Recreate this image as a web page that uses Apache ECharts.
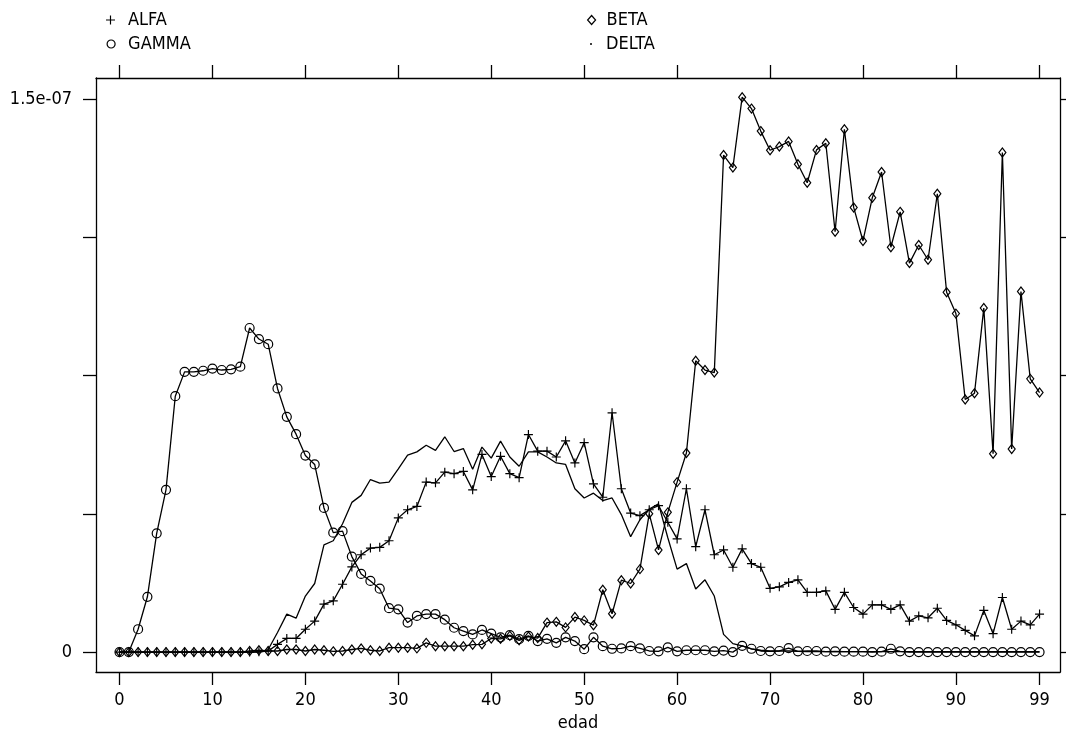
<!DOCTYPE html>
<html>
<head>
<meta charset="utf-8">
<script src="https://cdn.jsdelivr.net/npm/echarts@6/dist/echarts.min.js"></script>
<style>
html,body{margin:0;padding:0;background:#fff;}
#chart{width:1066px;height:739px;}
</style>
</head>
<body>
<div id="chart"></div>
<script>
// values are in units of 1e-9
const edad = [0,1,2,3,4,5,6,7,8,9,10,11,12,13,14,15,16,17,18,19,20,21,22,23,24,25,26,27,28,29,30,31,32,33,34,35,36,37,38,39,40,41,42,43,44,45,46,47,48,49,50,51,52,53,54,55,56,57,58,59,60,61,62,63,64,65,66,67,68,69,70,71,72,73,74,75,76,77,78,79,80,81,82,83,84,85,86,87,88,89,90,91,92,93,94,95,96,97,98,99];

const alfa = [0,0,0,0,0,0,0,0,0,0,0,0,0,0,0,0.1,0.3,2.1,3.7,3.7,6.2,8.4,13.0,13.9,18.4,23.1,26.4,28.2,28.4,30.2,36.4,38.6,39.5,46.1,45.9,48.8,48.4,49.0,44.0,53.6,47.6,53.1,48.4,47.3,59.0,54.5,54.5,52.9,57.3,51.3,56.8,45.6,42.0,64.9,44.3,37.7,37.0,38.6,39.7,35.2,30.7,44.3,28.6,38.6,26.4,27.7,23.0,28.0,24.0,23.0,17.3,17.7,18.9,19.6,16.2,16.2,16.6,11.6,16.2,12.1,10.3,12.8,12.8,11.6,12.8,8.4,9.8,9.3,11.9,8.6,7.4,5.9,4.4,11.3,5.0,14.8,6.2,8.4,7.4,10.3];

const beta = [0,0,0,0,0,0,0,0,0,0,0,0,0,0,0.3,0.5,0.3,0.3,0.7,0.7,0.3,0.7,0.5,0.2,0.3,0.7,1.0,0.5,0.3,1.2,1.2,1.2,1.0,2.5,1.6,1.6,1.6,1.6,2.0,2.1,3.7,3.6,4.4,3.2,4.2,3.8,8.0,8.2,6.7,9.5,8.6,7.3,16.9,10.4,19.5,18.6,22.5,37.5,27.7,37.9,46.1,54.0,79.0,76.5,75.8,134.8,131.4,150.5,147.4,141.3,136.1,137.1,138.5,132.3,127.3,136.2,138.0,114.0,141.8,120.6,111.5,123.2,130.2,109.8,119.4,105.5,110.4,106.4,124.3,97.6,91.8,68.5,70.2,93.3,53.8,135.5,55.1,97.8,74.1,70.4];

const gamma = [0,0,6.2,15.0,32.2,44.0,69.4,76.0,76.0,76.3,76.9,76.5,76.7,77.4,87.9,84.9,83.5,71.5,63.8,59.1,53.3,50.9,39.1,32.4,32.8,25.9,21.2,19.3,17.2,11.9,11.6,8.0,9.8,10.3,10.3,8.8,6.6,5.7,4.8,6.0,5.0,4.0,4.6,3.5,4.4,3.0,3.6,2.5,4.0,3.0,0.8,4.0,1.6,0.9,1.0,1.6,1.0,0.3,0.2,1.3,0.2,0.5,0.5,0.5,0.2,0.4,0,1.7,0.9,0.3,0.2,0.3,1.1,0.2,0.3,0.3,0.1,0.2,0.1,0.1,0.1,0,0.1,0.9,0.2,0,0,0,0,0,0,0,0,0,0,0,0,0,0,0];

const delta = [0,0,0,0,0,0,0,0,0,0,0,0,0,0,0,0,0.7,5.3,10.3,9.2,15.2,18.6,29.1,30.2,34.8,40.6,42.5,46.8,45.8,46.1,49.7,53.4,54.3,56.1,54.7,58.4,54.4,55.2,49.6,55.6,52.6,57.2,52.9,50.4,54.3,54.3,52.9,51.3,50.9,44.3,41.8,43.1,41.1,41.8,37.3,31.3,35.9,38.8,40.2,31.0,22.5,24.0,17.1,19.6,15.2,4.8,2.3,1.7,0.9,0.5,0.3,0.3,0.3,0.2,0.1,0.1,0.1,0.1,0.1,0.1,0.1,0.1,0.1,0.1,0.1,0.1,0.1,0.1,0.1,0.1,0.1,0.1,0.1,0.1,0.1,0.1,0.1,0.1,0.1,0.1];

const xTicks = [0,10,20,30,40,50,60,70,80,90,99];
const yTicks = [0,37.5,75,112.5,150];
const yLabels = [0,150];

// pick a condensed font if one is installed
function hasFont(name){
  const c = document.createElement('canvas').getContext('2d');
  c.font = '20px monospace';
  const w0 = c.measureText('GAMMA 1.5e-07').width;
  c.font = '20px "' + name + '", monospace';
  const w1 = c.measureText('GAMMA 1.5e-07').width;
  return Math.abs(w0 - w1) > 0.5;
}
let FONT = 'Liberation Sans, Arial, sans-serif', FS = 17;
if (hasFont('Liberation Sans Narrow')) { FONT = '"Liberation Sans Narrow", sans-serif'; FS = 20; }
else if (hasFont('DejaVu Sans Condensed')) { FONT = '"DejaVu Sans Condensed", sans-serif'; FS = 18; }

const plusPath = 'path://M4.35,0H5.65V10H4.35Z M0,4.35H10V5.65H0Z';

function fmtY(v){
  if (v === 0) return '0';
  const s = (v*1e-9).toExponential(1);
  return s.replace(/e([+-])(\d)$/, 'e$10$2');
}
function pairs(arr){ return edad.map((a,i)=>[a, arr[i]]); }

const chart = echarts.init(document.getElementById('chart'), null, {renderer:'canvas'});

const axisLineStyle = {color:'#000', width:1.3};
const LW = 1.3;
const txt = {fontFamily:FONT, fontSize:FS, color:'#000'};
const option = {
  animation:false,
  backgroundColor:'#fff',
  textStyle:{fontFamily:FONT, color:'#000'},
  grid:{left:96, right:6, top:78, bottom:67, outerBoundsMode:'none', show:false},
  legend:[
    {left:101, top:15 - FS/2, itemWidth:9, itemHeight:9, selectedMode:false,
     textStyle:Object.assign({padding:[0,0,0,8]}, txt),
     data:[{name:'ALFA', icon:plusPath, itemStyle:{color:'#000', borderWidth:0}}]},
    {left:101.5, top:39 - FS/2, itemWidth:8, itemHeight:8, selectedMode:false,
     textStyle:Object.assign({padding:[0,0,0,8]}, txt),
     data:[{name:'GAMMA', icon:'circle', itemStyle:{color:'transparent', borderColor:'#000', borderWidth:1.2}}]},
    {left:582, top:15 - FS/2, itemWidth:8, itemHeight:9, selectedMode:false,
     textStyle:Object.assign({padding:[0,0,0,6]}, txt),
     data:[{name:'BETA', icon:'diamond', itemStyle:{color:'transparent', borderColor:'#000', borderWidth:1.2}}]},
    {left:585, top:39 - FS/2, itemWidth:2, itemHeight:2, selectedMode:false,
     textStyle:Object.assign({padding:[0,0,0,9]}, txt),
     data:[{name:'DELTA', icon:'circle', itemStyle:{color:'#000', borderWidth:0}}]}
  ],
  xAxis:[
    {type:'value', position:'bottom', min:-2.53, max:101.2,
     name:'edad', nameLocation:'middle', nameGap:50 - FS/2,
     nameTextStyle:txt,
     axisLine:{show:true, onZero:false, lineStyle:axisLineStyle},
     axisTick:{show:true, inside:false, length:13, customValues:xTicks, lineStyle:axisLineStyle},
     axisLabel:Object.assign({show:true, margin:28 - FS/2, customValues:xTicks}, txt),
     splitLine:{show:false}},
    {type:'value', position:'top', min:-2.53, max:101.2,
     axisLine:{show:true, onZero:false, lineStyle:axisLineStyle},
     axisTick:{show:true, inside:false, length:13, customValues:xTicks, lineStyle:axisLineStyle},
     axisLabel:{show:false},
     splitLine:{show:false}}
  ],
  yAxis:[
    {type:'value', position:'left', min:-5.4, max:155.7,
     axisLine:{show:true, onZero:false, lineStyle:axisLineStyle},
     axisTick:{show:true, inside:false, length:13, customValues:yTicks, lineStyle:axisLineStyle},
     axisLabel:Object.assign({show:true, margin:24, customValues:yLabels, formatter:fmtY}, txt),
     splitLine:{show:false}},
    {type:'value', position:'right', min:-5.4, max:155.7,
     axisLine:{show:true, onZero:false, lineStyle:axisLineStyle},
     axisTick:{show:true, inside:false, length:13, customValues:yTicks, lineStyle:axisLineStyle},
     axisLabel:{show:false},
     splitLine:{show:false}}
  ],
  series:[
    {name:'ALFA', type:'line', data:pairs(alfa), symbol:plusPath, symbolSize:9,
     itemStyle:{color:'#000', borderWidth:0}, lineStyle:{color:'#000', width:LW}},
    {name:'BETA', type:'line', data:pairs(beta), symbol:'diamond', symbolSize:[7,9],
     itemStyle:{color:'transparent', borderColor:'#000', borderWidth:1.2}, lineStyle:{color:'#000', width:LW}},
    {name:'GAMMA', type:'line', data:pairs(gamma), symbol:'circle', symbolSize:9,
     itemStyle:{color:'transparent', borderColor:'#000', borderWidth:1.2}, lineStyle:{color:'#000', width:LW}},
    {name:'DELTA', type:'line', data:pairs(delta), symbol:'none',
     itemStyle:{color:'#000'}, lineStyle:{color:'#000', width:LW}}
  ]
};
chart.setOption(option);
</script>
</body>
</html>
